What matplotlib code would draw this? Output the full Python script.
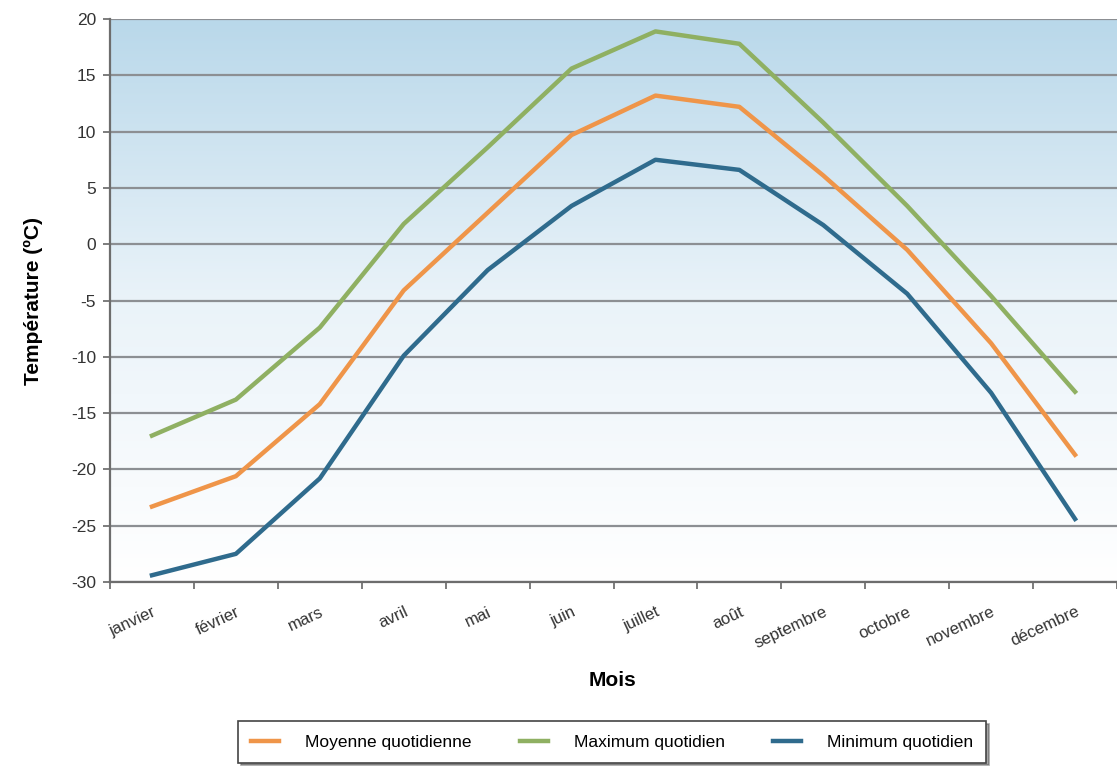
import numpy as np
import matplotlib
matplotlib.use("Agg")
import matplotlib.pyplot as plt
from matplotlib.colors import LinearSegmentedColormap

plt.rcParams['font.family'] = ['Liberation Sans', 'DejaVu Sans']
plt.rcParams['axes.unicode_minus'] = False

mois = ['janvier', 'février', 'mars', 'avril', 'mai', 'juin', 'juillet',
        'août', 'septembre', 'octobre', 'novembre', 'décembre']
moyenne = [-23.3, -20.6, -14.2, -4.1, 2.8, 9.7, 13.2, 12.2, 6.1, -0.5, -8.8, -18.7]
maximum = [-17.0, -13.8, -7.4, 1.8, 8.6, 15.6, 18.9, 17.8, 10.8, 3.4, -4.6, -13.1]
minimum = [-29.4, -27.5, -20.8, -9.9, -2.3, 3.4, 7.5, 6.6, 1.7, -4.4, -13.2, -24.4]
y_ticks = list(range(-30, 25, 5))

fig = plt.figure(figsize=(11.17, 7.67), dpi=100)
ax = fig.add_axes([0.0985, 0.2412, 0.9015, 0.734])

x = np.arange(len(mois))
ax.set_xlim(-0.5, len(mois) - 0.5)
ax.set_ylim(-30, 20)

# vertical gradient behind the plot, light blue at the top fading to white
cmap = LinearSegmentedColormap.from_list('bg', ['#ffffff', '#eaf3f9', '#b9d8ea'])
grad = np.linspace(0, 1, 256).reshape(-1, 1)
ax.imshow(grad, cmap=cmap, aspect='auto', origin='lower',
          extent=[-0.5, len(mois) - 0.5, -30, 20], zorder=0)

for v in y_ticks:
    ax.axhline(v, color='#8c8f93', lw=1.6, zorder=1)

ax.plot(x, moyenne, color='#ef9549', lw=3.2, label='Moyenne quotidienne', zorder=3)
ax.plot(x, maximum, color='#8fb062', lw=3.2, label='Maximum quotidien', zorder=3)
ax.plot(x, minimum, color='#2f6b8d', lw=3.2, label='Minimum quotidien', zorder=3)

ax.set_yticks(y_ticks)
ax.tick_params(axis='y', length=5, width=1.2, color='#666666', labelsize=12.5,
               labelcolor='#333333', pad=5)

# tick marks between months, labels centred on each month
ax.set_xticks(np.arange(-0.5, len(mois), 1.0))
ax.set_xticklabels([])
ax.set_xticks(x, minor=True)
ax.set_xticklabels(mois, minor=True, rotation=25, ha='right',
                   rotation_mode='anchor', fontsize=12, color='#333333')
ax.tick_params(axis='x', which='major', length=5, width=1.2, color='#666666')
ax.tick_params(axis='x', which='minor', length=0, pad=16)

for side in ['top', 'right']:
    ax.spines[side].set_visible(False)
ax.spines['left'].set_color('#6d6d6d')
ax.spines['left'].set_linewidth(1.6)
ax.spines['bottom'].set_color('#6d6d6d')
ax.spines['bottom'].set_linewidth(1.6)

ax.set_ylabel('Température (ºC)', fontsize=15, fontweight='bold', labelpad=20)
fig.text(0.548, 0.113, 'Mois', ha='center', va='center', fontsize=15, fontweight='bold')

leg = fig.legend(loc='center', bbox_to_anchor=(0.548, 0.0325), ncol=3,
                 frameon=True, fancybox=False, shadow=True, fontsize=12.5,
                 handlelength=1.6, columnspacing=2.8, borderpad=0.75,
                 handletextpad=1.5, borderaxespad=0)
leg.get_frame().set_edgecolor('#444444')
leg.get_frame().set_linewidth(1.2)

fig.savefig('out.png', dpi=100)
